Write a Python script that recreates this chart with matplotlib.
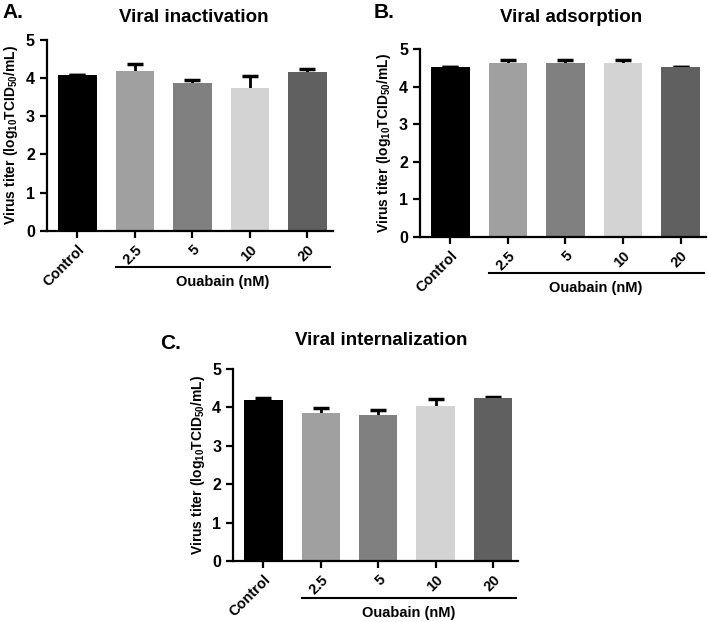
import matplotlib.pyplot as plt
import numpy as np

plt.rcParams['font.family'] = ['Liberation Sans', 'DejaVu Sans']
plt.rcParams['font.weight'] = 'bold'
plt.rcParams['mathtext.fontset'] = 'custom'
plt.rcParams['mathtext.rm'] = 'Liberation Sans:bold'
plt.rcParams['mathtext.it'] = 'Liberation Sans:bold'
plt.rcParams['mathtext.bf'] = 'Liberation Sans:bold'

groups = ['Control', '2.5', '5', '10', '20']
colors = ['#000000', '#a0a0a0', '#808080', '#d3d3d3', '#606060']

# panel A: viral inactivation
inact_mean = [4.08, 4.19, 3.87, 3.75, 4.15]
inact_err = [0.0, 0.17, 0.07, 0.29, 0.08]
# panel B: viral adsorption
adsorp_mean = [4.53, 4.63, 4.63, 4.63, 4.53]
adsorp_err = [0.0, 0.07, 0.07, 0.07, 0.0]
# panel C: viral internalization
intern_mean = [4.18, 3.85, 3.81, 4.04, 4.23]
intern_err = [0.06, 0.12, 0.13, 0.18, 0.05]

ylabel = r'$\mathbf{Virus\ titer\ (log_{10}TCID_{50}/mL)}$'


def draw(ax, means, errs, title, title_xy):
    x = np.arange(len(groups))
    # error bars behind the bars so only the upper half shows
    ax.errorbar(x, means, yerr=errs, fmt='none', ecolor='black',
                elinewidth=2, capsize=6, capthick=2.5, zorder=1)
    ax.bar(x, means, width=0.67, color=colors, zorder=2)
    ax.set_xlim(-0.53, 4.44)
    ax.set_ylim(0, 5)
    ax.set_yticks(range(6))
    ax.set_xticks(x)
    ax.set_xticklabels(groups, rotation=45, ha='right', rotation_mode='anchor',
                       fontsize=10.5, fontweight='bold')
    ax.tick_params(axis='y', labelsize=11.5, width=1.6, length=5)
    ax.tick_params(axis='x', width=1.6, length=5)
    for s in ['top', 'right']:
        ax.spines[s].set_visible(False)
    for s in ['left', 'bottom']:
        ax.spines[s].set_linewidth(1.6)
    ax.set_ylabel(ylabel, fontsize=10)
    ax.figure.text(title_xy[0], title_xy[1], title, fontsize=13.5,
                   fontweight='bold', ha='center', va='center')
    # bracket for ouabain groups
    trans = ax.get_xaxis_transform()
    ax.plot([0.67, 4.4], [-0.19, -0.19], color='black', lw=1.5,
            transform=trans, clip_on=False)
    ax.text(2.53, -0.27, 'Ouabain (nM)', transform=trans, ha='center',
            va='center', fontsize=10.5, fontweight='bold')


fig = plt.figure(figsize=(7.08, 6.22), dpi=100)
axA = fig.add_axes([0.066, 0.629, 0.404, 0.307])
axB = fig.add_axes([0.593, 0.619, 0.404, 0.302])
axC = fig.add_axes([0.329, 0.098, 0.403, 0.309])

draw(axA, inact_mean, inact_err, 'Viral inactivation', (0.273, 0.972))
draw(axB, adsorp_mean, adsorp_err, 'Viral adsorption', (0.806, 0.972))
draw(axC, intern_mean, intern_err, 'Viral internalization', (0.538, 0.453))

fig.text(0.004, 0.98, 'A.', fontsize=15, fontweight='bold', va='center')
fig.text(0.528, 0.98, 'B.', fontsize=15, fontweight='bold', va='center')
fig.text(0.226, 0.448, 'C.', fontsize=15, fontweight='bold', va='center')

fig.savefig('out.png', dpi=100)
